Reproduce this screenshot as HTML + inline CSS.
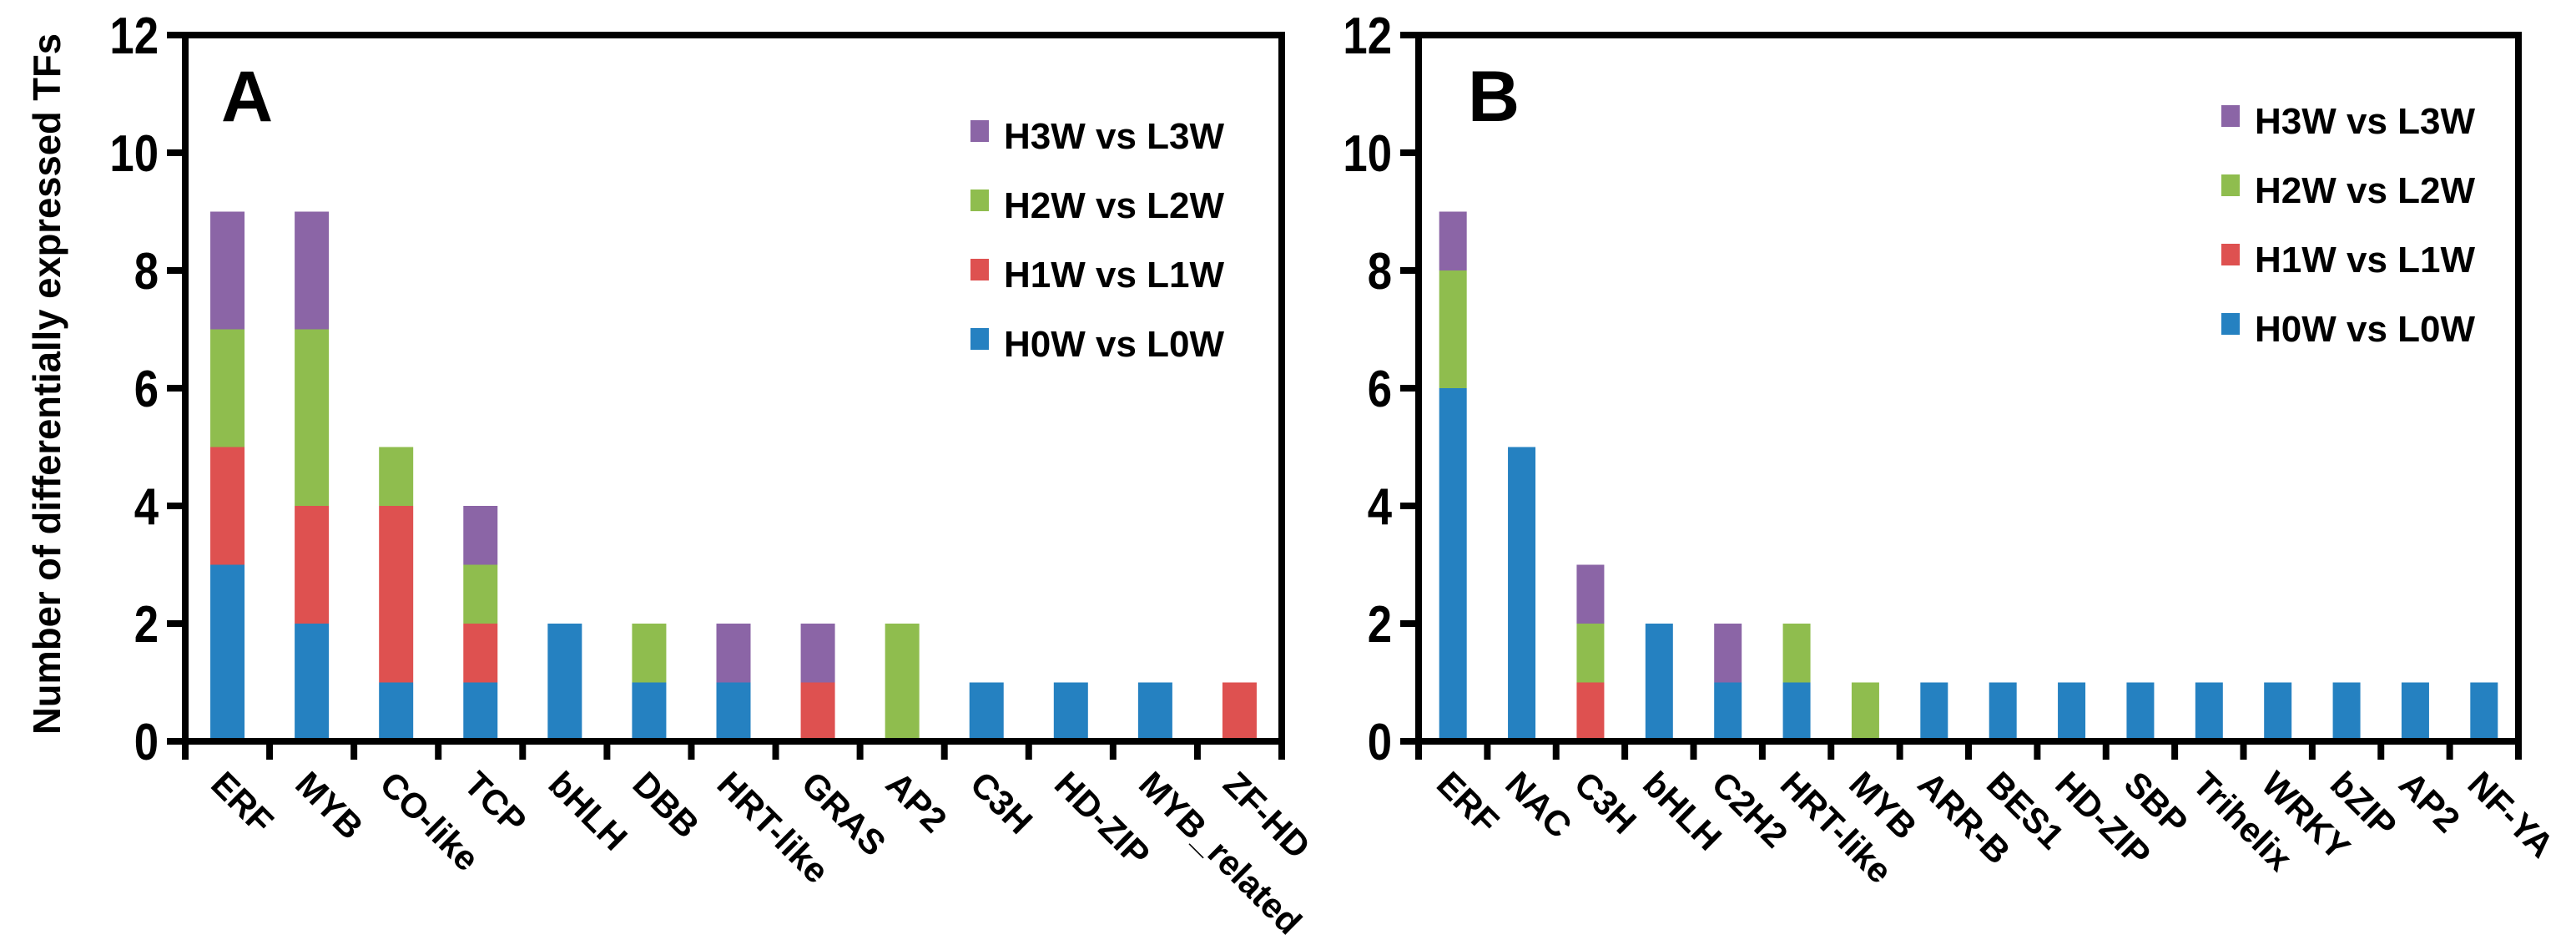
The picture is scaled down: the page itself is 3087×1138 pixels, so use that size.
<!DOCTYPE html>
<html><head><meta charset="utf-8"><style>
html,body{margin:0;padding:0;background:#fff;}
svg{display:block;font-family:"Liberation Sans",sans-serif;}
</style></head><body>
<svg id="c" width="3087" height="1138" viewBox="0 0 3087 1138"></svg>
<script>
const seriesNames = ["H0W vs L0W","H1W vs L1W","H2W vs L2W","H3W vs L3W"];
const colors = ["#2581C1","#DE5150","#8FBD4E","#8B65A6"];
const yTicks = [0,2,4,6,8,10,12];
const catsA = ["ERF","MYB","CO-like","TCP","bHLH","DBB","HRT-like","GRAS","AP2","C3H","HD-ZIP","MYB_related","ZF-HD"];
const h0A = [3,2,1,1,2,1,1,0,0,1,1,1,0];
const h1A = [2,2,3,1,0,0,0,1,0,0,0,0,1];
const h2A = [2,3,1,1,0,1,0,0,2,0,0,0,0];
const h3A = [2,2,0,1,0,0,1,1,0,0,0,0,0];
const catsB = ["ERF","NAC","C3H","bHLH","C2H2","HRT-like","MYB","ARR-B","BES1","HD-ZIP","SBP","Trihelix","WRKY","bZIP","AP2","NF-YA"];
const h0B = [6,5,0,2,1,1,0,1,1,1,1,1,1,1,1,1];
const h1B = [0,0,1,0,0,0,0,0,0,0,0,0,0,0,0,0];
const h2B = [2,0,1,0,0,1,1,0,0,0,0,0,0,0,0,0];
const h3B = [1,0,1,0,1,0,0,0,0,0,0,0,0,0,0,0];

const NS="http://www.w3.org/2000/svg";
const svg=document.getElementById('c');
function mk(tag,attrs,parent){const e=document.createElementNS(NS,tag);for(const k in attrs)e.setAttribute(k,attrs[k]);(parent||svg).appendChild(e);return e;}

const yTop=42,yBot=888,yMax=12;
function yS(v){return yBot-(v/yMax)*(yBot-yTop);}

function panel(id,left,right,cats,series,letter,letterX,legX,legY0,barW){
  const g=mk('g',{});
  
  
  const n=cats.length, slot=(right-left)/n;
  function xC(i){return left+slot*(i+0.5);}
  for(let i=0;i<n;i++){
    let acc=0;
    for(let s=0;s<4;s++){
      const v=series[s][i]; if(!v) continue;
      const r=mk('rect',{x:xC(i)-barW/2,y:yS(acc+v),width:barW,height:yS(acc)-yS(acc+v),fill:colors[s]},g);
      
      
      acc+=v;
    }
  }
  const fr=mk('rect',{x:left,y:yTop,width:right-left,height:yBot-yTop,fill:'none',stroke:'#000','stroke-width':8},g);
  
  
  yTicks.forEach(t=>{
    mk('line',{x1:left-22,x2:left,y1:yS(t),y2:yS(t),stroke:'#000','stroke-width':8},g);
    const tx=mk('text',{x:0,y:0,'text-anchor':'end','font-size':62,'font-weight':'bold'},g);
    tx.setAttribute('transform','translate('+(left-32)+','+(yS(t)+22)+') scale(0.85,1)');
    tx.textContent=t;
    
    
  });
  for(let i=0;i<=n;i++){
    mk('line',{x1:left+slot*i,x2:left+slot*i,y1:yBot,y2:yBot+22,stroke:'#000','stroke-width':8},g);
  }
  for(let i=0;i<n;i++){
    const x0=xC(i)-22,y0=942;
    const tx=mk('text',{x:0,y:0,'font-size':42,'font-weight':'bold',transform:'translate('+x0+','+y0+') rotate(45)'},g);
    tx.textContent=cats[i];
    
    
  }
  const L=mk('text',{x:letterX,y:145,'font-size':86,'font-weight':'bold','text-anchor':'middle'},g);
  L.textContent=letter;
  
  
  for(let k=0;k<4;k++){
    const s=3-k, yy=legY0+k*83;
    const lg=mk('g',{},g);
    
    
    mk('rect',{x:legX,y:yy-34,width:22,height:26,fill:colors[s]},lg);
    const t=mk('text',{x:legX+40,y:yy,'font-size':44,'font-weight':'bold'},lg);
    t.textContent=seriesNames[s];
  }
}
panel('a',222,1536,catsA,[h0A,h1A,h2A,h3A],'A',296,1163,178,41);
panel('b',1700,3018,catsB,[h0B,h1B,h2B,h3B],'B',1790,2662,160,33);

const yt=mk('text',{x:0,y:0,'font-size':46,'font-weight':'bold','text-anchor':'middle',transform:'translate(72,460) rotate(-90)',textLength:840,lengthAdjust:'spacingAndGlyphs'});
yt.textContent='Number of differentially expressed TFs';


</script>
</body></html>
